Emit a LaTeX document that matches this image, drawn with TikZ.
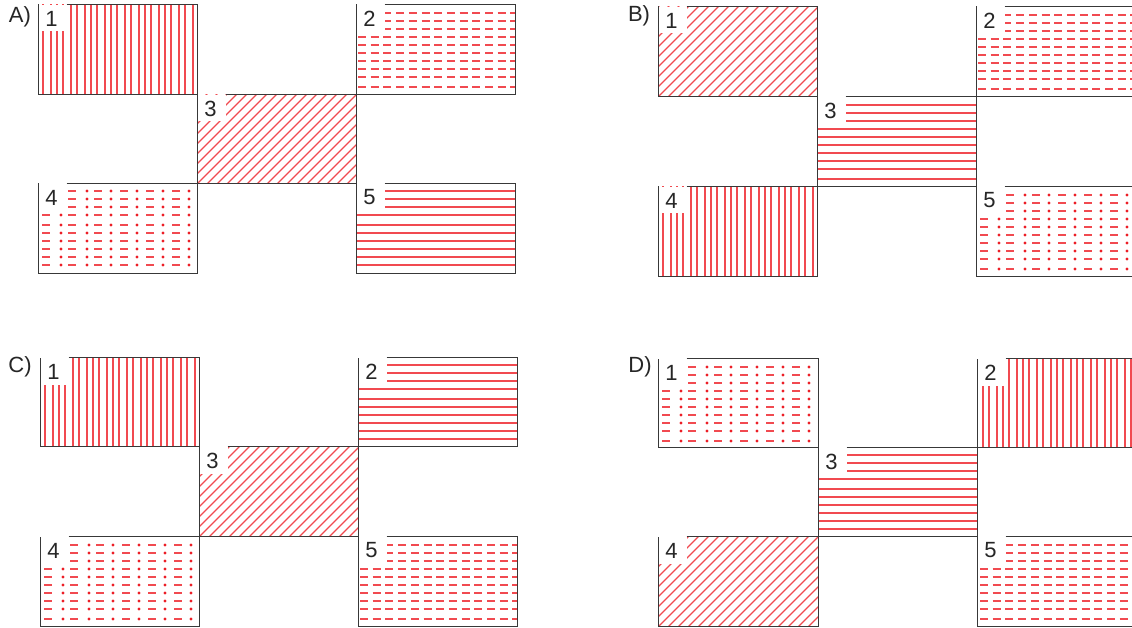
\documentclass[tikz,border=0pt]{standalone}
\usepackage{fontspec}
\setmainfont{Liberation Sans}
\definecolor{hred}{RGB}{241,74,80}
\definecolor{dred}{RGB}{236,30,38}
\tikzset{x=1pt,y=-1pt,
  hline/.style={hred,line width=2pt},
  dline/.style={hred,line width=1.3pt},
  frame/.style={draw=black!78,line width=1pt},
  num/.style={font=\fontsize{22}{22}\selectfont,inner sep=0pt,text=black!85},
  plabel/.style={font=\fontsize{22}{22}\selectfont,inner sep=0pt,text=black!85}}
\newcommand\sn[1]{(2*floor((#1)/2)+1)}
\newcommand\patV{\foreach \i in {0,...,23}{\draw[hline] ({\sn{\xa+5+6.75*\i}},\ya) -- ({\sn{\xa+5+6.75*\i}},\yb);}}
\newcommand\patH{\foreach \i in {0,...,9}{\draw[hline] (\xa,{\sn{\ya+7.8+8.2*\i}}) -- (\xb,{\sn{\ya+7.8+8.2*\i}});}}
\newcommand\patS{\foreach \i in {0,...,9}{\draw[hline,dash pattern=on 8pt off 4.7pt] ({\sn{\xa+3.3}-1},{\sn{\ya+7.8+8.2*\i}}) -- (\xb,{\sn{\ya+7.8+8.2*\i}});}}
\newcommand\patP{\foreach \i in {0,...,9}{\foreach \k in {0,...,5}{%
  \draw[hline] ({\sn{\xa+5+25.8*\k}-1},{\sn{\ya+7.8+8.2*\i}}) -- ++(8,0);
  \fill[dred] ({\sn{\xa+21.7+25.8*\k}},{\sn{\ya+7.8+8.2*\i}}) circle (1.7);}}}
\newcommand\patD{\foreach \i in {-11,...,16}{\draw[dline] ({\xa+10*\i},\yb) -- ({\xa+10*\i+130},{\yb-130});}}
\newcommand\pbox[7]{%
  \def\xa{#1}\def\ya{#2}\def\xb{#3}\def\yb{#4}%
  \begin{scope}\clip (\xa,{\ya+0.5}) rectangle (\xb,\yb); \csname pat#5\endcsname\end{scope}
  \fill[white] ({\xa+0.5},{\ya+0.5}) rectangle ({\xa+28},{\ya+27});
  \draw[frame] ({\xa+28},\ya) -- (\xb,\ya) -- (\xb,\yb) -- (\xa,\yb) -- (\xa,\ya);
  \node[num] (#7) at ({\xa+13},{\ya+14}) {#6};}
\begin{document}
\begin{tikzpicture}
\useasboundingbox (0,0) rectangle (1132,628);
% Panel A
\node[plabel] (LA) at (20,17) {A)};
\pbox{38.5}{4.5}{197.5}{94.5}{V}{1}{A1}
\pbox{356.5}{4.5}{515.5}{94.5}{S}{2}{A2}
\pbox{197.5}{94.5}{356.5}{183.5}{D}{3}{A3}
\pbox{38.5}{183.5}{197.5}{273.5}{P}{4}{A4}
\pbox{356.5}{183.5}{515.5}{273.5}{H}{5}{A5}
% Panel B
\node[plabel] (LB) at (639,16) {B)};
\pbox{658.5}{6.5}{817.5}{96.5}{D}{1}{B1}
\pbox{976.5}{6.5}{1136}{96.5}{S}{2}{B2}
\pbox{817.5}{96.5}{976.5}{186.5}{H}{3}{B3}
\pbox{658.5}{186.5}{817.5}{276.5}{V}{4}{B4}
\pbox{976.5}{186.5}{1136}{276.5}{P}{5}{B5}
% Panel C
\node[plabel] (LC) at (20,367) {C)};
\pbox{40.5}{357.5}{199.5}{446.5}{V}{1}{C1}
\pbox{358.5}{357.5}{517.5}{446.5}{H}{2}{C2}
\pbox{199.5}{446.5}{358.5}{536.5}{D}{3}{C3}
\pbox{40.5}{536.5}{199.5}{626.5}{P}{4}{C4}
\pbox{358.5}{536.5}{517.5}{626.5}{S}{5}{C5}
% Panel D
\node[plabel] (LD) at (640,367) {D)};
\pbox{658.5}{358.5}{818.5}{447.5}{P}{1}{D1}
\pbox{977.5}{358.5}{1136}{447.5}{V}{2}{D2}
\pbox{818.5}{447.5}{977.5}{536.5}{H}{3}{D3}
\pbox{658.5}{536.5}{818.5}{626.5}{D}{4}{D4}
\pbox{977.5}{536.5}{1136}{626.5}{S}{5}{D5}
\end{tikzpicture}
\end{document}
